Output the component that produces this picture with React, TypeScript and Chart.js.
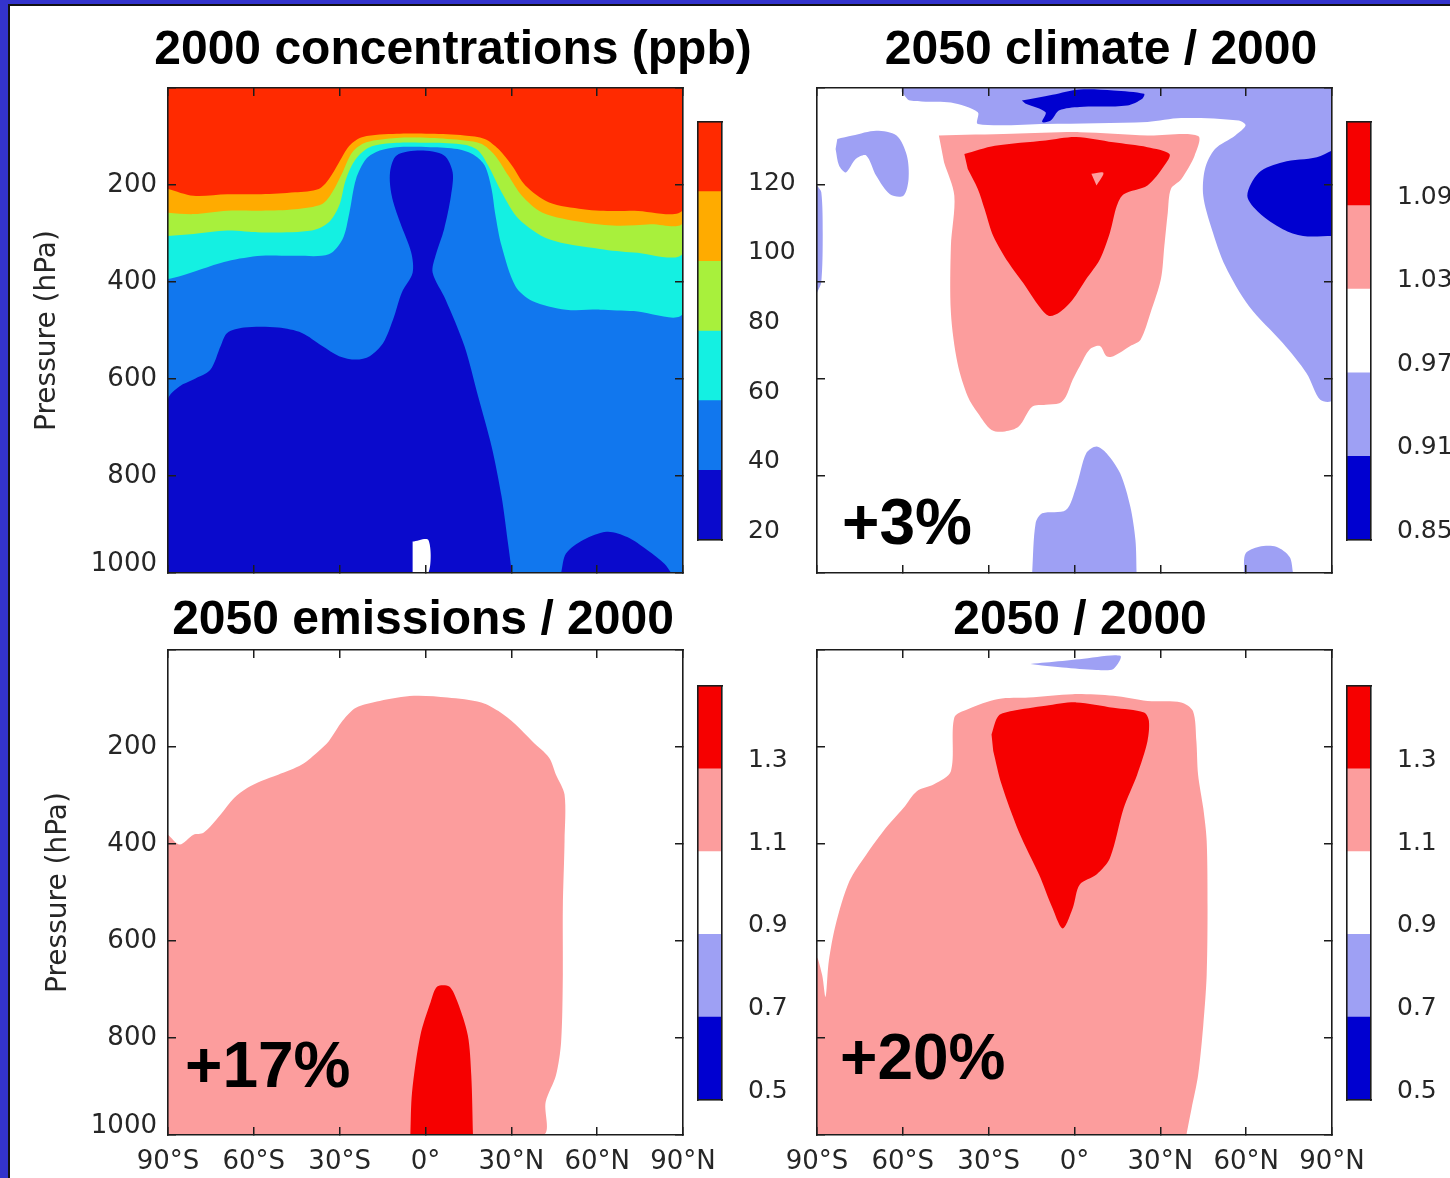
import React, { useEffect, useRef } from 'react';
import { Chart, registerables } from 'chart.js';

Chart.register(...registerables);

type Pt = [number, number];

// ---------- tick labels ----------
const LAT_TICKS = [-90, -60, -30, 0, 30, 60, 90];
const LAT_TICK_LABELS = ['90°S', '60°S', '30°S', '0°', '30°N', '60°N', '90°N'];
const PRESSURE_TICKS = [0, 200, 400, 600, 800, 1000];
const PRESSURE_TICK_LABELS = ['', '200', '400', '600', '800', '1000'];

// ---------- colour scales ----------
const CONC_BOUNDS = [20, 40, 60, 80, 100, 120, 140];
const CONC_COLORS = ['#0a0acc', '#1177ee', '#14f0e2', '#a8f03c', '#ffab00', '#ff2a00'];
const CONC_TICKS = [20, 40, 60, 80, 100, 120];
const CONC_TICK_LABELS = ['20', '40', '60', '80', '100', '120'];

const RATIO_COLORS = ['#0000d0', '#9ea0f4', '#ffffff', '#fc9d9d', '#f60000'];
const CLIM_BOUNDS = [0.85, 0.91, 0.97, 1.03, 1.09, 1.15];
const CLIM_TICKS = [0.85, 0.91, 0.97, 1.03, 1.09];
const CLIM_TICK_LABELS = ['0.85', '0.91', '0.97', '1.03', '1.09'];

const RATIO_BOUNDS = [0.5, 0.7, 0.9, 1.1, 1.3, 1.5];
const RATIO_TICKS = [0.5, 0.7, 0.9, 1.1, 1.3];
const RATIO_TICK_LABELS = ['0.5', '0.7', '0.9', '1.1', '1.3'];

// ---------- panel 1: 2000 concentrations (ppb), contour regions [lat, hPa] ----------
const CONC_GE40: Pt[] = [[-90, 0], [90, 0], [90, 1000], [-90, 1000]];
const CONC_GE60: Pt[] = [[-90, 0], [90, 0], [90, 463], [72.8, 460], [61, 457], [49.1, 457], [37.3, 439], [31.4, 408], [26.6, 326], [24.3, 257], [23.1, 208], [20.7, 160], [17.2, 139], [11.2, 126], [1.8, 122], [-10.1, 122], [-16, 129], [-20.7, 146], [-24.3, 188], [-26.6, 257], [-29, 312], [-33.8, 343], [-45.6, 346], [-57.4, 346], [-69.3, 357], [-78.7, 374], [-85.9, 388], [-90, 394]];
const CONC_GE80: Pt[] = [[-90, 0], [90, 0], [90, 339], [72.8, 339], [61, 332], [43.2, 312], [32.6, 270], [26.6, 215], [21.9, 160], [18.4, 129], [13.6, 117], [1.8, 113], [-10.1, 113], [-19.5, 122], [-24.3, 146], [-27.8, 188], [-30.2, 243], [-33.8, 277], [-39.7, 294], [-57.4, 298], [-69.3, 294], [-81.1, 301], [-90, 305]];
const CONC_GE100: Pt[] = [[-90, 0], [90, 0], [90, 277], [78.7, 281], [66.9, 284], [55.1, 277], [40.9, 257], [33.7, 222], [29, 181], [24.3, 139], [19.5, 115], [13.6, 108], [1.8, 103], [-10.1, 103], [-20.7, 112], [-25.5, 132], [-29, 174], [-32.6, 215], [-36.1, 239], [-45.6, 250], [-57.4, 253], [-69.3, 253], [-81.1, 260], [-90, 257]];
const CONC_GE120: Pt[] = [[-90, 0], [90, 0], [90, 250], [72.8, 253], [61, 253], [55.1, 250], [43.2, 236], [34.9, 201], [30.2, 160], [25.5, 126], [20.7, 105], [13.6, 98], [1.8, 94.5], [-10.1, 94.5], [-21.9, 101], [-26.6, 119], [-30.2, 153], [-33.8, 188], [-37.3, 208], [-45.6, 215], [-57.4, 219], [-69.3, 219], [-81.1, 222], [-90, 208]];
const CONC_LT40_MAIN: Pt[] = [[-90, 1000], [-90, 643], [-85.9, 615], [-81.1, 601], [-75.2, 581], [-71.6, 532], [-69.3, 505], [-63.4, 494], [-51.5, 494], [-43.2, 505], [-36.1, 532], [-30.2, 553], [-24.3, 560], [-19.5, 553], [-14.8, 526], [-11.3, 477], [-8.3, 422], [-4.5, 381], [-5, 339], [-8.9, 277], [-11.8, 222], [-12.4, 174], [-10.1, 139], [-1.8, 129], [6.5, 139], [9.5, 174], [8.9, 222], [6.5, 291], [3.5, 346], [2.5, 381], [7, 436], [13.6, 532], [18.4, 636], [23.1, 739], [26.6, 843], [29, 946], [30.2, 1000]];
const CONC_LT40_NH: Pt[] = [[47.4, 1000], [49.1, 960], [55.1, 932], [63.4, 915], [70.5, 926], [77.6, 953], [83.5, 981], [85.9, 1000]];
const CONC_MISSING: Pt[] = [[-4.5, 935], [1, 932], [1, 1000], [-4.5, 1000]];

// ---------- panel 2: 2050 climate / 2000 ----------
const CLIM_LT097_TOP: Pt[] = [[-60.4, 0], [90, 0], [90, 643], [85.9, 643], [81.1, 588], [72.8, 526], [61, 450], [52.7, 367], [48, 291], [45, 222], [45.6, 167], [49.1, 126], [56.2, 98], [59.8, 77], [57.4, 67], [37.3, 62], [25.5, 70], [-10.1, 74], [-33.8, 74], [-33.8, 50], [-43.2, 30], [-57.4, 26], [-60.4, 8]];
const CLIM_LT097_HOOK: Pt[] = [[-82.9, 105], [-77.6, 98], [-69.3, 88], [-62.2, 98], [-58.6, 139], [-58, 188], [-59.8, 222], [-64.5, 219], [-69.3, 181], [-72.8, 139], [-76.4, 146], [-79.9, 174], [-82.3, 160], [-83.5, 126]];
const CLIM_LT097_EDGE: Pt[] = [[-90, 201], [-88.5, 215], [-88, 300], [-88.5, 400], [-90, 422]];
const CLIM_LT097_SFC: Pt[] = [[-14.8, 1000], [-13.6, 898], [-11.3, 877], [-3, 870], [0.6, 822], [4.1, 753], [7.7, 739], [11.2, 753], [16, 795], [19.5, 863], [21.3, 932], [21.7, 1000]];
const CLIM_LT097_NH: Pt[] = [[59.2, 1000], [59.8, 960], [64.5, 946], [70.5, 946], [75.2, 967], [76.4, 1000]];
const CLIM_LT091_TOP: Pt[] = [[-18.4, 26], [-7.7, 14], [1.8, 3], [13.6, 5], [24.3, 12], [23.7, 22], [18.4, 36], [1.8, 39], [-5.3, 46], [-8.3, 67], [-11.3, 70], [-10.1, 50], [-17.2, 32]];
const CLIM_LT091_NH: Pt[] = [[90, 129], [84.7, 143], [72.8, 153], [64.5, 174], [60.4, 222], [64.5, 257], [72.8, 291], [79.9, 305], [90, 305]];
const CLIM_GE103: Pt[] = [[-47.4, 98], [-21.9, 94.5], [1.8, 91], [25.5, 98], [43.2, 99], [42, 139], [37.3, 188], [33.7, 208], [32.6, 257], [31.4, 326], [30.2, 394], [26.6, 463], [23.1, 519], [19.5, 532], [13.6, 553], [11.2, 553], [8.9, 532], [5.3, 539], [1.8, 574], [-0.6, 601], [-3, 636], [-5.3, 650], [-10.1, 653], [-14.8, 657], [-19.5, 698], [-24.3, 708], [-29, 705], [-33.8, 670], [-37.3, 636], [-40.9, 567], [-43.2, 463], [-43.2, 326], [-42, 222], [-45.6, 153]];
const CLIM_GE109: Pt[] = [[-38.5, 136], [-27.8, 119], [-10.1, 108], [0.6, 101], [13.6, 112], [25.5, 122], [33.2, 136], [31.4, 160], [25.5, 201], [17.2, 219], [14.8, 243], [12.4, 298], [8.9, 353], [4.1, 394], [-0.6, 436], [-5.3, 463], [-8.9, 470], [-12.4, 450], [-17.2, 408], [-23.1, 360], [-28.4, 305], [-31.4, 250], [-33.8, 208], [-37.3, 167]];
const CLIM_GE103_HOLE: Pt[] = [[5.9, 177], [10.1, 175], [7.7, 201]];

// ---------- panel 3: 2050 emissions / 2000 ----------
const EMIS_GE110: Pt[] = [[-90, 381], [-85.9, 401], [-81.1, 381], [-77.6, 377], [-71.6, 339], [-66.9, 305], [-62.2, 284], [-57.4, 270], [-51.5, 257], [-43.2, 236], [-37.3, 208], [-33.8, 188], [-29, 146], [-24.3, 119], [-16, 105], [-4.1, 94.5], [7.7, 98], [19.5, 108], [25.5, 126], [31.4, 153], [37.3, 188], [43.2, 222], [45.6, 257], [48.6, 298], [48.6, 394], [48, 532], [48, 670], [47.4, 808], [45.6, 877], [42, 932], [40.9, 1000], [-90, 1000]];
const EMIS_GE130: Pt[] = [[-5.3, 1000], [-4.7, 912], [-1.8, 795], [1.8, 726], [4.1, 694], [8.3, 694], [11.2, 726], [14.8, 795], [16, 877], [16.6, 1000]];

// ---------- panel 4: 2050 / 2000 ----------
const TOTAL_GE110: Pt[] = [[-90, 1000], [-90, 636], [-88.2, 670], [-87, 715], [-85.9, 643], [-83.5, 567], [-78.7, 477], [-72.8, 422], [-66.9, 374], [-59.8, 326], [-55.1, 291], [-49.1, 277], [-43.2, 250], [-42, 139], [-37.3, 122], [-26.6, 101], [-16, 98], [-0.6, 91], [13.6, 94.5], [25.5, 105], [37.3, 108], [41.4, 126], [42.6, 188], [43.2, 257], [45, 326], [46.2, 394], [46.5, 532], [46.2, 670], [45, 774], [43.2, 877], [40.9, 946], [39.1, 1000]];
const TOTAL_GE130: Pt[] = [[-29, 174], [-26.6, 136], [-21.9, 126], [-10.1, 115], [0.6, 108], [13.6, 119], [24.3, 129], [26, 146], [25.5, 188], [21.9, 257], [17.2, 326], [12.4, 429], [7.7, 463], [1.8, 484], [-0.6, 532], [-4.1, 574], [-7.7, 532], [-12.4, 463], [-19.5, 374], [-25.5, 277], [-28.4, 208]];
const TOTAL_LT090: Pt[] = [[-15.4, 29], [-10.1, 26], [1.8, 19], [16, 12], [13.6, 39], [7.7, 41], [-4.1, 36], [-11.3, 32]];

// ---------- layout / style ----------
const PAD_L = 140;
const PAD_R = 70;
const PAD_T = 50;
const PAD_B = 60;
const PLOT_W = 515;
const PLOT_H = 485;
const INK = '#1c1c1c';
const TEXT = '#262626';
const TICK_FONT = { family: 'DejaVu Sans', size: 26 };
const LIFTED_TICK_FONT = { family: 'DejaVu Sans', size: 26, lineHeight: 18 / 26 };
const AXIS_TITLE_FONT = { family: 'DejaVu Sans', size: 28 };
const CB_FONT = { family: 'DejaVu Sans', size: 25 };

type Layer = { pts: Pt[]; color: string };

function Panel(props: { left: number; top: number; layers: Layer[]; showLat: boolean; showPressure: boolean; titlePad: number }) {
  const ref = useRef<HTMLCanvasElement | null>(null);
  const W = PAD_L + PLOT_W + PAD_R;
  const H = PAD_T + PLOT_H + PAD_B;
  useEffect(() => {
    const { layers, showLat, showPressure, titlePad } = props;
    const grid = { drawOnChartArea: false, drawTicks: true, tickLength: -8, color: INK, tickColor: INK, lineWidth: 1.5, tickWidth: 1.5, z: 1 };
    const border = { display: true, color: INK, width: 1.6, z: 1 };
    const latTicks = (show: boolean) => ({
      display: show, stepSize: 30, autoSkip: false, maxRotation: 0, minRotation: 0, padding: 20,
      font: TICK_FONT, color: TEXT, z: 1,
      callback: (v: any) => LAT_TICK_LABELS[LAT_TICKS.indexOf(Math.round(Number(v)))] ?? '',
    });
    const lastP = PRESSURE_TICKS[PRESSURE_TICKS.length - 1];
    const presTicks = (show: boolean) => ({
      display: show, stepSize: 200, autoSkip: false, padding: 19,
      color: TEXT, z: 1,
      // the bottom label sits a little above its tick, as in the original figure
      font: (ctx: any) => (ctx && ctx.tick && ctx.tick.value === lastP ? LIFTED_TICK_FONT : TICK_FONT),
      callback: (v: any) => {
        const label = PRESSURE_TICK_LABELS[PRESSURE_TICKS.indexOf(Math.round(Number(v)))] ?? '';
        return Math.round(Number(v)) === lastP ? [label, ''] : label;
      },
    });
    const chart = new Chart(ref.current as HTMLCanvasElement, {
      type: 'line',
      data: {
        datasets: layers.slice().reverse().map((l) => ({
          data: l.pts.map(([x, y]) => ({ x, y })),
          backgroundColor: l.color,
          borderColor: l.color,
          borderWidth: 0,
          pointRadius: 0,
          pointHoverRadius: 0,
          fill: 'shape',
          tension: 0.3,
        })),
      },
      options: {
        animation: false,
        responsive: false,
        maintainAspectRatio: false,
        devicePixelRatio: 1,
        events: [],
        layout: { padding: 0 },
        plugins: { legend: { display: false }, tooltip: { enabled: false } },
        scales: {
          x: { type: 'linear', position: 'bottom', min: -90, max: 90, grid, border, ticks: latTicks(showLat), afterFit: (s: any) => { s.height = PAD_B; } },
          x2: { type: 'linear', position: 'top', min: -90, max: 90, grid, border, ticks: latTicks(false), afterFit: (s: any) => { s.height = PAD_T; } },
          y: {
            type: 'linear', position: 'left', min: 0, max: 1000, reverse: true, grid, border, ticks: presTicks(showPressure),
            title: { display: showPressure, text: 'Pressure (hPa)', font: AXIS_TITLE_FONT, color: TEXT, padding: { top: titlePad, bottom: 0 } },
            afterFit: (s: any) => { s.width = PAD_L; },
          },
          y2: { type: 'linear', position: 'right', min: 0, max: 1000, reverse: true, grid, border, ticks: presTicks(false), afterFit: (s: any) => { s.width = PAD_R; } },
        },
      },
    } as any);
    return () => chart.destroy();
  }, []);
  return (
    <canvas
      ref={ref}
      width={W}
      height={H}
      style={{ position: 'absolute', left: props.left - PAD_L, top: props.top - PAD_T, width: W, height: H }}
    />
  );
}

function Colorbar(props: { left: number; top: number; height: number; bounds: number[]; colors: string[]; ticks: number[]; labels: string[] }) {
  const ref = useRef<HTMLCanvasElement | null>(null);
  const BAR_W = 24;
  const PL = 2;
  const PR = 110;
  const PV = 60;
  const W = PL + BAR_W + PR;
  const H = PV * 2 + props.height;
  useEffect(() => {
    const { bounds, colors, ticks, labels } = props;
    const border = { display: true, color: INK, width: 1.6, z: 1 };
    const hidden = { display: false, drawTicks: false };
    const lo = bounds[0];
    const hi = bounds[bounds.length - 1];
    const chart = new Chart(ref.current as HTMLCanvasElement, {
      type: 'bar',
      data: {
        labels: [''],
        datasets: colors.map((c, i) => ({
          data: [[bounds[i], bounds[i + 1]]],
          backgroundColor: c,
          borderWidth: 0,
          grouped: false,
          barPercentage: 1,
          categoryPercentage: 1,
        })),
      },
      options: {
        animation: false,
        responsive: false,
        maintainAspectRatio: false,
        devicePixelRatio: 1,
        events: [],
        layout: { padding: 0 },
        plugins: { legend: { display: false }, tooltip: { enabled: false } },
        scales: {
          x: { type: 'category', position: 'bottom', grid: hidden, border, ticks: { display: false }, afterFit: (s: any) => { s.height = PV; } },
          x2: { type: 'category', position: 'top', grid: hidden, border, ticks: { display: false }, afterFit: (s: any) => { s.height = PV; } },
          y: {
            type: 'linear', position: 'right', min: lo, max: hi, beginAtZero: false, grid: hidden, border,
            afterBuildTicks: (s: any) => { s.ticks = ticks.map((v) => ({ value: v })); },
            ticks: { padding: 26, labelOffset: -8.5, font: CB_FONT, color: TEXT, autoSkip: false, callback: (_v: any, i: number) => labels[i] },
            afterFit: (s: any) => { s.width = PR; },
          },
          yl: { type: 'linear', position: 'left', min: lo, max: hi, beginAtZero: false, grid: hidden, border, ticks: { display: false }, afterFit: (s: any) => { s.width = PL; } },
        },
      },
    } as any);
    return () => chart.destroy();
  }, []);
  return (
    <canvas
      ref={ref}
      width={W}
      height={H}
      style={{ position: 'absolute', left: props.left - PL, top: props.top - PV, width: W, height: H }}
    />
  );
}

function Title(props: { cx: number; cy: number; text: string }) {
  return (
    <div
      style={{
        position: 'absolute', left: props.cx - 400, width: 800, top: props.cy - 30, height: 60, lineHeight: '60px',
        textAlign: 'center', fontFamily: "'Liberation Sans', Arial, sans-serif", fontWeight: 'bold', fontSize: 48, color: '#000', whiteSpace: 'nowrap',
      }}
    >
      {props.text}
    </div>
  );
}

function Note(props: { x: number; cy: number; text: string }) {
  return (
    <div
      style={{
        position: 'absolute', left: props.x, top: props.cy - 31, height: 64, lineHeight: '64px',
        fontFamily: "'Liberation Sans', Arial, sans-serif", fontWeight: 'bold', fontSize: 64, color: '#000', whiteSpace: 'nowrap',
      }}
    >
      {props.text}
    </div>
  );
}

const CONC_LAYERS: Layer[] = [
  { pts: CONC_GE40, color: CONC_COLORS[1] },
  { pts: CONC_GE60, color: CONC_COLORS[2] },
  { pts: CONC_GE80, color: CONC_COLORS[3] },
  { pts: CONC_GE100, color: CONC_COLORS[4] },
  { pts: CONC_GE120, color: CONC_COLORS[5] },
  { pts: CONC_LT40_MAIN, color: CONC_COLORS[0] },
  { pts: CONC_LT40_NH, color: CONC_COLORS[0] },
  { pts: CONC_MISSING, color: '#ffffff' },
];

const CLIM_LAYERS: Layer[] = [
  { pts: CLIM_LT097_TOP, color: RATIO_COLORS[1] },
  { pts: CLIM_LT097_HOOK, color: RATIO_COLORS[1] },
  { pts: CLIM_LT097_EDGE, color: RATIO_COLORS[1] },
  { pts: CLIM_LT097_SFC, color: RATIO_COLORS[1] },
  { pts: CLIM_LT097_NH, color: RATIO_COLORS[1] },
  { pts: CLIM_LT091_TOP, color: RATIO_COLORS[0] },
  { pts: CLIM_LT091_NH, color: RATIO_COLORS[0] },
  { pts: CLIM_GE103, color: RATIO_COLORS[3] },
  { pts: CLIM_GE109, color: RATIO_COLORS[4] },
  { pts: CLIM_GE103_HOLE, color: RATIO_COLORS[3] },
];

const EMIS_LAYERS: Layer[] = [
  { pts: EMIS_GE110, color: RATIO_COLORS[3] },
  { pts: EMIS_GE130, color: RATIO_COLORS[4] },
];

const TOTAL_LAYERS: Layer[] = [
  { pts: TOTAL_GE110, color: RATIO_COLORS[3] },
  { pts: TOTAL_GE130, color: RATIO_COLORS[4] },
  { pts: TOTAL_LT090, color: RATIO_COLORS[1] },
];

export default function App() {
  return (
    <div style={{ position: 'absolute', left: 0, top: 0, width: 1450, height: 1178, overflow: 'hidden', background: '#3333cc' }}>
      <div
        style={{
          position: 'absolute', left: 8, top: 4, width: 1442, height: 1174, background: '#ffffff',
          borderLeft: '2px solid #111', borderTop: '2px solid #111', boxSizing: 'border-box',
        }}
      />
      <Panel left={168} top={88} layers={CONC_LAYERS} showLat={false} showPressure={true} titlePad={3} />
      <Panel left={817} top={88} layers={CLIM_LAYERS} showLat={false} showPressure={false} titlePad={0} />
      <Panel left={168} top={650} layers={EMIS_LAYERS} showLat={true} showPressure={true} titlePad={14} />
      <Panel left={817} top={650} layers={TOTAL_LAYERS} showLat={true} showPressure={false} titlePad={0} />

      <Colorbar left={698} top={122} height={418} bounds={CONC_BOUNDS} colors={CONC_COLORS} ticks={CONC_TICKS} labels={CONC_TICK_LABELS} />
      <Colorbar left={1347} top={122} height={418} bounds={CLIM_BOUNDS} colors={RATIO_COLORS} ticks={CLIM_TICKS} labels={CLIM_TICK_LABELS} />
      <Colorbar left={698} top={686} height={414} bounds={RATIO_BOUNDS} colors={RATIO_COLORS} ticks={RATIO_TICKS} labels={RATIO_TICK_LABELS} />
      <Colorbar left={1347} top={686} height={414} bounds={RATIO_BOUNDS} colors={RATIO_COLORS} ticks={RATIO_TICKS} labels={RATIO_TICK_LABELS} />

      <Title cx={453} cy={48} text="2000 concentrations (ppb)" />
      <Title cx={1101} cy={48} text="2050 climate / 2000" />
      <Title cx={423} cy={618} text="2050 emissions / 2000" />
      <Title cx={1080} cy={618} text="2050 / 2000" />

      <Note x={842} cy={521} text="+3%" />
      <Note x={185} cy={1064} text="+17%" />
      <Note x={840} cy={1056} text="+20%" />
    </div>
  );
}
